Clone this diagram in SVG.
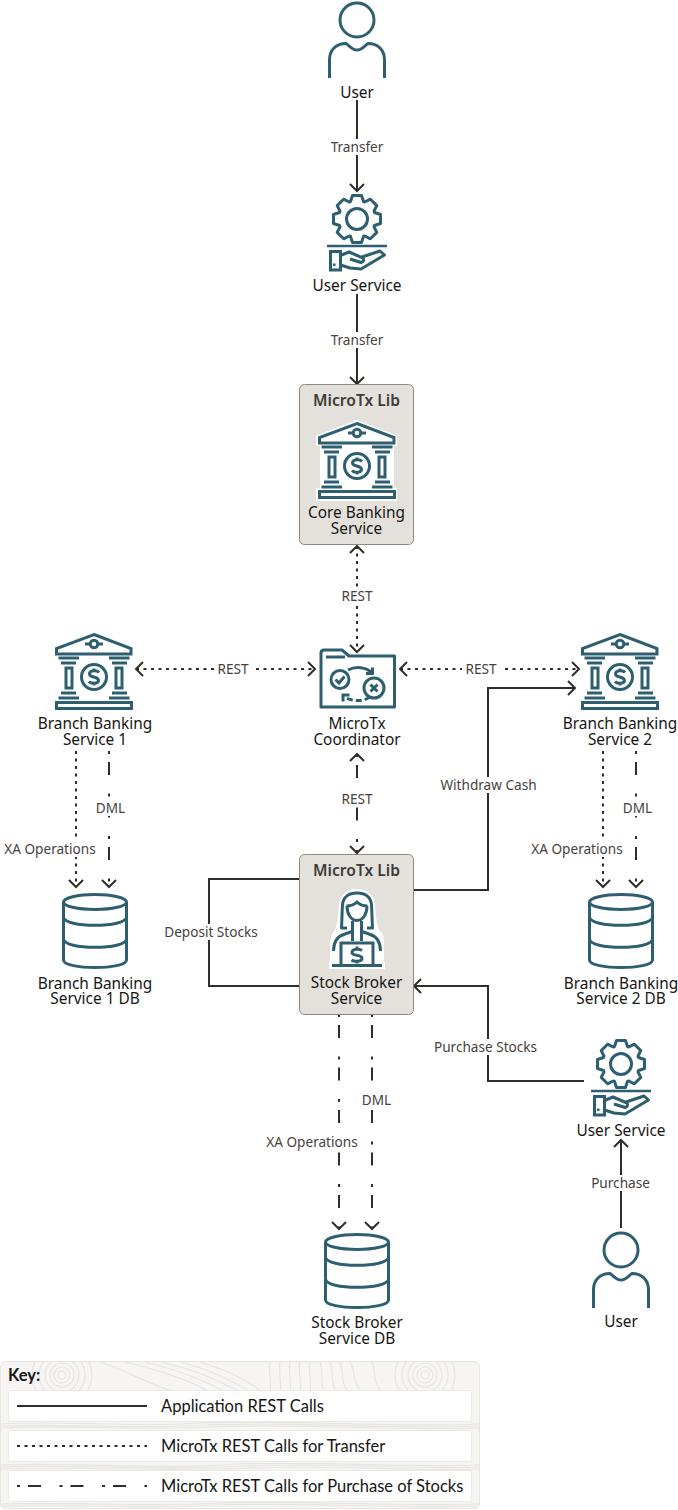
<svg xmlns="http://www.w3.org/2000/svg" xmlns:xlink="http://www.w3.org/1999/xlink" width="678" height="1510" viewBox="0 0 678 1510">
<style>
text{font-family:"Noto Sans","Open Sans","Liberation Sans",sans-serif;text-anchor:middle}
.n{font-size:15.4px;fill:#161513}
.l{font-size:13.6px;fill:#46423e}
.t{font-size:15.6px;font-weight:600;fill:#3f3b37}
.k{font-family:Lato,"Noto Sans",sans-serif;font-size:16.5px;fill:#161513;text-anchor:start}
.box{fill:#e4e1dc;stroke:#8d8882;stroke-width:1}
.ic{fill:none;stroke:#2e5f70;stroke-width:3}
.icf{fill:#2e5f70}
.halo{fill:#fff}
.e{fill:none;stroke:#312d2a;stroke-width:2}
.d{stroke-dasharray:3 4.500}
.p{stroke-dasharray:3 8 13 18.500}
.a{marker-end:url(#ah)}
.b{marker-start:url(#ah);marker-end:url(#ah)}
.bg{fill:#fff}
.row{fill:#fff;stroke:#ebe9e5;stroke-width:1}
.tex{fill:none;stroke:#e7e5e0;stroke-width:1.200}
</style>
<defs>
<marker id="ah" markerUnits="userSpaceOnUse" viewBox="-10 -9 12 18" refX="0" refY="0" markerWidth="12" markerHeight="18" orient="auto-start-reverse">
<path d="M-7,-7 L0,0 L-7,7" fill="none" stroke="#312d2a" stroke-width="2"/>
</marker>
<clipPath id="kc"><rect x="1" y="1362" width="478" height="146" rx="5"/></clipPath>
<g id="user">
<circle class="ic" cx="357" cy="20" r="17"/>
<path class="ic" d="M329.5,78 V60 C329.500,50 336,43.500 346,43.500 C350,46 352,50 357,50 C362,50 364,46 368,43.500 C378,43.500 384.500,50 384.500,60 V78"/>
</g>
<g id="svc">
<path class="ic" stroke-linejoin="round" d="M352.500,195.500 H361.500 L363.500,201.500 L364.800,202 L370.400,199.200 L376.800,205.600 L374,211.200 L374.500,212.500 L380.500,214.500 V223.500 L374.500,225.500 L374,226.800 L376.800,232.400 L370.400,238.800 L364.800,236 L363.500,236.500 L361.500,242.500 H352.500 L350.500,236.500 L349.200,236 L343.600,238.800 L337.200,232.400 L340,226.800 L339.500,225.500 L333.500,223.500 V214.500 L339.500,212.500 L340,211.200 L337.200,205.600 L343.600,199.200 L349.200,202 L350.500,201.500 Z"/>
<circle class="ic" cx="357" cy="219" r="10.500"/>
<path d="M327,246 H387" fill="none" stroke="#2e5f70" stroke-width="2.500"/>
<rect class="ic" x="330.500" y="251.500" width="10" height="18.500"/>
<rect class="icf" x="333" y="263.500" width="2.500" height="2.500"/>
<path class="ic" stroke-width="2.500" stroke-linejoin="round" d="M340.500,255.500 L349,252 L363,258 Q365,261 361,262.500 L350,259 M362,257 L380,251 L384.500,255 L361,269 L350,268 L340.500,265"/>
</g>
<g id="bank">
<path class="ic" d="M357,423.500 L394,437.500 V443 H319.500 V437.500 Z"/>
<circle class="ic" cx="357" cy="433" r="3.800"/>
<path class="ic" d="M348,433 H353 M361,433 H366"/>
<path class="ic" d="M321.500,447 H342 M324,452 H339 M372,447 H392.500 M375,452 H390"/>
<rect class="ic" x="329" y="457" width="6" height="20"/>
<rect class="ic" x="379" y="457" width="6" height="20"/>
<path class="ic" d="M324,482 H339 M321.500,487 H342 M375,482 H390 M372,487 H392.500"/>
<rect class="ic" x="319.500" y="491.500" width="75" height="6"/>
<circle class="ic" cx="357" cy="466" r="12.500"/>
<path class="ic" stroke-width="2.300" d="M362,461.500 C360,459 352.500,459 352.500,463 C352.500,467 361.500,465 361.500,469.500 C361.500,473 354,473 352,470.500 M357,457.500 V460 M357,472 V474.500"/>
</g>
<g id="db">
<ellipse class="ic" stroke-width="3.300" cx="95" cy="902" rx="31.500" ry="7.500"/>
<path class="ic" stroke-width="3.300" d="M63.500,902 V960 C63.500,970 126.500,970 126.500,960 V902"/>
<path class="ic" stroke-width="3.300" d="M63.500,917 C63.500,928 126.500,928 126.500,917 M63.500,939 C63.500,950 126.500,950 126.500,939"/>
</g>
</defs>
<rect width="678" height="1510" fill="#fff"/>

<g id="connectors">
<path class="e a" d="M357,100 V191"/>
<path class="e a" d="M357,294 V384"/>
<path class="e d b" d="M357,546 V652"/>
<path class="e d b" d="M136,669 H315"/>
<path class="e d b" d="M400,669 H579"/>
<path class="e p b" d="M357,754 V853"/>
<path class="e d a" d="M76,751 V887"/>
<path class="e p a" d="M109,751 V887"/>
<path class="e d a" d="M603,751 V887"/>
<path class="e p a" d="M636,751 V887"/>
<path class="e a" d="M414,890 H488 V688 H575"/>
<path class="e" d="M300,879 H209 V986 H300"/>
<path class="e a" d="M584,1081 H488 V986 H414"/>
<path class="e p a" d="M339,1014 V1229"/>
<path class="e p a" d="M372,1014 V1229"/>
<path class="e a" d="M621,1228 V1140"/>
<g id="edge-labels">
<rect class="bg" x="331" y="139" width="52" height="16"/><text class="l" x="357" y="152">Transfer</text>
<rect class="bg" x="331" y="332" width="52" height="16"/><text class="l" x="357" y="345">Transfer</text>
<rect class="bg" x="338" y="588" width="38" height="16"/><text class="l" x="357" y="601">REST</text>
<rect class="bg" x="214" y="661" width="40" height="16"/><text class="l" x="233" y="674">REST</text>
<rect class="bg" x="462" y="661" width="40" height="16"/><text class="l" x="481" y="674">REST</text>
<rect class="bg" x="338" y="791" width="38" height="16"/><text class="l" x="357" y="804">REST</text>
<rect class="bg" x="441" y="777" width="95" height="16"/><text class="l" x="488.500" y="790">Withdraw Cash</text>
<rect class="bg" x="4" y="841" width="92" height="16"/><text class="l" x="50" y="854">XA Operations</text>
<rect class="bg" x="95" y="800" width="31" height="16"/><text class="l" x="110.500" y="813">DML</text>
<rect class="bg" x="531" y="841" width="92" height="16"/><text class="l" x="577" y="854">XA Operations</text>
<rect class="bg" x="622" y="800" width="31" height="16"/><text class="l" x="637.500" y="813">DML</text>
<rect class="bg" x="165" y="924" width="93" height="16"/><text class="l" x="211" y="937">Deposit Stocks</text>
<rect class="bg" x="434" y="1039" width="103" height="16"/><text class="l" x="485.500" y="1052">Purchase Stocks</text>
<rect class="bg" x="266" y="1134" width="92" height="16"/><text class="l" x="312" y="1147">XA Operations</text>
<rect class="bg" x="361" y="1092" width="31" height="16"/><text class="l" x="376.500" y="1105">DML</text>
<rect class="bg" x="591" y="1175" width="59" height="16"/><text class="l" x="620.500" y="1188">Purchase</text>
</g>
</g>

<g id="user-top"><use href="#user"/><text class="n" x="357" y="98">User</text></g>
<g id="user-service-top"><use href="#svc"/><text class="n" x="357" y="291">User Service</text></g>
<g id="core-banking">
<rect class="box" x="299.500" y="384.500" width="114" height="160" rx="5"/>
<text class="t" x="356.500" y="406">MicroTx Lib</text>
<path class="halo" d="M357,420 L397,435.500 V446 H394 V488 H397 V501 H316 V488 H320 V446 H316 V435.500 Z"/>
<use href="#bank"/>
<text class="n" x="356.500" y="518">Core Banking</text>
<text class="n" x="356.500" y="534">Service</text>
</g>
<g id="coordinator">
<path class="ic" stroke-width="3.500" stroke-linejoin="round" d="M321,707 V653 Q321,650 324,650 H342 L349,656 H394.500 V707 Z"/>
<path d="M326,657 H345" fill="none" stroke="#2e5f70" stroke-width="3"/>
<circle class="ic" cx="340" cy="679.500" r="9"/>
<path class="ic" stroke-width="2.500" d="M335.500,679.500 L339,683 L344.500,676.500"/>
<circle class="ic" cx="374" cy="688" r="10"/>
<path class="ic" stroke-width="2.800" d="M370.500,684.500 L377.500,691.500 M377.500,684.500 L370.500,691.500"/>
<path class="ic" stroke-width="2.500" d="M348,670 C356,666 366,667 372,673"/>
<path class="ic" stroke-width="2.500" d="M366,673.500 H372.500 V667.500"/>
<path class="ic" stroke-width="2.500" stroke-dasharray="6 3" d="M370,697 C364,701 356,702 346,698"/>
<path class="ic" stroke-width="2.500" d="M349.500,695 H343 V701.500"/>
<text class="n" x="357" y="729">MicroTx</text>
<text class="n" x="357" y="745">Coordinator</text>
</g>
<g id="branch-1"><use href="#bank" transform="translate(-263,211)"/><text class="n" x="95" y="729">Branch Banking</text><text class="n" x="95" y="745">Service 1</text></g>
<g id="branch-2"><use href="#bank" transform="translate(263,211)"/><text class="n" x="620" y="729">Branch Banking</text><text class="n" x="620" y="745">Service 2</text></g>
<g id="branch-1-db"><use href="#db"/><text class="n" x="95" y="988.500">Branch Banking</text><text class="n" x="95" y="1004">Service 1 DB</text></g>
<g id="branch-2-db"><use href="#db" transform="translate(526,0)"/><text class="n" x="621" y="988.500">Branch Banking</text><text class="n" x="621" y="1004">Service 2 DB</text></g>
<g id="stock-broker">
<rect class="box" x="299.500" y="854.500" width="114" height="160" rx="5"/>
<text class="t" x="356.500" y="876">MicroTx Lib</text>
<path class="halo" d="M357,889 C369,889 374,896 375,905 C376,915 376,922 379,930 C384,934 384,936 384,950 V962 H385 V969 H329 V962 H330 V950 C330,936 332,934 335,930 C338,922 338,915 339,905 C340,896 345,889 357,889 Z"/>
<path class="ic" stroke-linejoin="round" d="M347,928 H341.500 C342,920 342,912 342.500,905 C343,897 349,893 357,893 C365,893 371,897 371.500,905 C372,912 372,920 372.500,928 H367"/>
<path class="ic" d="M346.500,906 C352,906 355,904 357,902 C359,904 362,906 367.500,906 M347,906 C347,914 351,920.500 357,920.500 C363,920.500 367,914 367,906"/>
<path class="ic" stroke-width="2.500" d="M352.500,921 V941 M361.500,921 V941"/>
<path class="ic" d="M333.500,951 C333.500,942 338,936 345,934 L352,931.500 M380.500,951 C380.500,942 376,936 369,934 L362,931.500"/>
<path class="ic" stroke-width="2.500" d="M341,964 V943 H373 V964"/>
<path d="M332,965.500 H382" fill="none" stroke="#2e5f70" stroke-width="3"/>
<path class="ic" stroke-width="2.800" d="M362,950.500 C359.500,948.500 352,948.500 352,952.500 C352,956.500 362,954 362,958.500 C362,962 354,962 351.500,960 M357,946.500 V949 M357,961 V963.500"/>
<text class="n" x="356.500" y="988">Stock Broker</text>
<text class="n" x="356.500" y="1004">Service</text>
</g>
<g id="user-service-bottom"><use href="#svc" transform="translate(264,845)"/><text class="n" x="621" y="1136">User Service</text></g>
<g id="user-bottom"><use href="#user" transform="translate(264,1230)"/><text class="n" x="621" y="1327">User</text></g>
<g id="stock-db"><use href="#db" transform="translate(262,340)"/><text class="n" x="357" y="1328">Stock Broker</text><text class="n" x="357" y="1344">Service DB</text></g>

<g id="key">
<rect x="0.500" y="1361.500" width="479" height="147" rx="5" fill="#f6f5f3" stroke="#e7e5e0"/>
<g clip-path="url(#kc)">
<g id="swirls">
<circle class="tex" cx="62" cy="1375" r="4"/><circle class="tex" cx="62" cy="1375" r="8"/><circle class="tex" cx="62" cy="1375" r="12"/><circle class="tex" cx="62" cy="1375" r="17"/><circle class="tex" cx="62" cy="1375" r="23"/><circle class="tex" cx="62" cy="1375" r="30"/>
<circle class="tex" cx="425" cy="1375" r="4"/><circle class="tex" cx="425" cy="1375" r="8"/><circle class="tex" cx="425" cy="1375" r="12"/><circle class="tex" cx="425" cy="1375" r="17"/><circle class="tex" cx="425" cy="1375" r="23"/><circle class="tex" cx="425" cy="1375" r="30"/>
</g>
<path class="tex" d="M100,1362 C130,1372 150,1385 175,1392 M125,1362 C150,1368 185,1378 210,1392 M145,1362 C170,1368 200,1378 225,1392 M160,1362 C190,1368 215,1378 240,1392 M180,1362 C205,1368 232,1380 250,1392 M200,1362 C225,1370 245,1378 262,1392 M270,1362 C268,1372 272,1382 270,1392 M280,1362 C278,1372 282,1382 280,1392 M290,1362 C288,1372 292,1382 290,1392 M300,1362 C298,1372 302,1382 300,1392 M310,1362 C308,1372 312,1382 310,1392 M320,1362 C324,1372 320,1382 324,1392 M330,1362 C334,1372 330,1382 336,1392 M340,1362 C344,1372 340,1382 348,1392 M350,1362 C356,1372 352,1382 362,1392 M372,1362 C376,1372 372,1382 382,1392"/>
<path class="tex" d="M1,1424 C60,1420 130,1428 200,1423 C280,1419 380,1428 479,1424 M1,1426 C60,1423 130,1430 205,1425 C285,1421 385,1430 479,1426 M1,1428 C70,1424 140,1431 210,1427 C290,1423 390,1431 479,1428 M1,1465 C80,1462 150,1470 240,1464 C310,1461 400,1468 479,1465 M1,1467 C75,1464 155,1471 245,1466 C315,1463 405,1469 479,1467 M1,1469 C70,1466 160,1472 250,1468 C320,1465 410,1471 479,1469 M1,1504 C70,1501 140,1508 220,1503 C300,1500 400,1507 479,1504 M1,1506 C70,1503 140,1510 220,1505 C300,1502 400,1509 479,1506"/>
</g>
<text class="k" x="8" y="1381" style="font-weight:700">Key:</text>
<rect class="row" x="8.500" y="1390.500" width="463" height="31" rx="2"/>
<rect class="row" x="8.500" y="1430.500" width="463" height="31" rx="2"/>
<rect class="row" x="8.500" y="1470.500" width="463" height="31" rx="2"/>
<path class="e" d="M17,1406 H147"/>
<path class="e d" d="M17,1446 H147"/>
<path class="e p" d="M17,1486 H147"/>
<text class="k" x="161" y="1412">Application REST Calls</text>
<text class="k" x="161" y="1452">MicroTx REST Calls for Transfer</text>
<text class="k" x="161" y="1492">MicroTx REST Calls for Purchase of Stocks</text>
</g>
</svg>
